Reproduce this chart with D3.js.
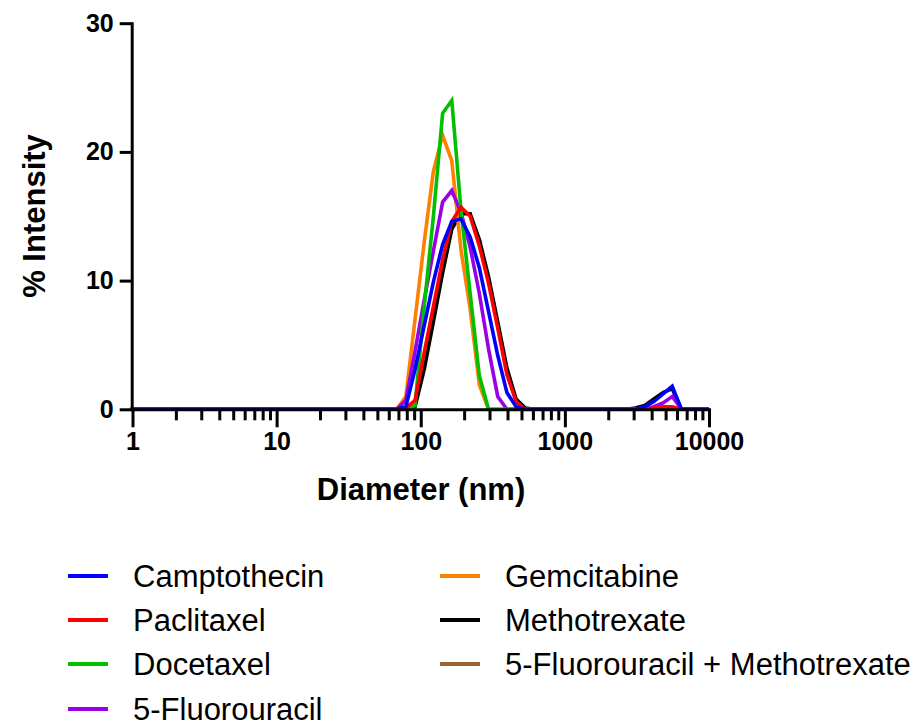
<!DOCTYPE html>
<html>
<head>
<meta charset="utf-8">
<script src="https://cdn.jsdelivr.net/npm/d3@7"></script>
<style>
  html, body { margin: 0; padding: 0; background: #fff; }
  svg { display: block; }
  text { font-family: "Liberation Sans", Arial, sans-serif; }
</style>
</head>
<body>
<svg id="chart" width="920" height="727"></svg>
<script>
// ---- Data (size bins in nm, % intensity per bin) ----
const diameters = [0.9649, 1.117, 1.294, 1.499, 1.736, 2.010, 2.328, 2.696, 3.122, 3.615,
  4.187, 4.849, 5.615, 6.503, 7.531, 8.721, 10.10, 11.70, 13.54, 15.69,
  18.17, 21.04, 24.36, 28.21, 32.67, 37.84, 43.82, 50.75, 58.77, 68.06,
  78.82, 91.28, 105.7, 122.4, 141.8, 164.2, 190.1, 220.2, 255.0, 295.3,
  342.0, 396.1, 458.7, 531.2, 615.1, 712.4, 825.0, 955.4, 1106, 1281,
  1484, 1718, 1990, 2305, 2669, 3091, 3580, 4145, 4801, 5560,
  6439, 7456, 8635, 10000];

const camptothecin = [0,0,0,0,0,0,0,0,0,0, 0,0,0,0,0,0,0,0,0,0, 0,0,0,0,0,0,0,0,0,0,
  0.2, 3.1, 6.5, 9.9, 12.8, 14.6, 14.8, 13.4, 11.0, 7.6,
  4.2, 1.3, 0.2, 0, 0, 0, 0, 0, 0, 0,
  0, 0, 0, 0, 0, 0, 0.2, 0.6, 1.2, 1.8,
  0, 0, 0, 0];
const paclitaxel = [0,0,0,0,0,0,0,0,0,0, 0,0,0,0,0,0,0,0,0,0, 0,0,0,0,0,0,0,0,0,0,
  0.1, 0.7, 4.4, 8.0, 11.6, 14.6, 15.7, 15.0, 12.7, 9.8,
  6.3, 2.7, 0.6, 0, 0, 0, 0, 0, 0, 0,
  0, 0, 0, 0, 0, 0, 0, 0.1, 0.2, 0.2,
  0, 0, 0, 0];
const docetaxel = [0,0,0,0,0,0,0,0,0,0, 0,0,0,0,0,0,0,0,0,0, 0,0,0,0,0,0,0,0,0,0,
  0, 0.3, 8.0, 15.0, 23.0, 24.0, 15.5, 9.0, 2.6, 0,
  0, 0, 0, 0, 0, 0, 0, 0, 0, 0,
  0, 0, 0, 0, 0, 0, 0, 0, 0, 0,
  0, 0, 0, 0];
const fluorouracil = [0,0,0,0,0,0,0,0,0,0, 0,0,0,0,0,0,0,0,0,0, 0,0,0,0,0,0,0,0,0,0,
  0.7, 4.5, 8.5, 12.3, 16.1, 17.0, 15.3, 12.6, 9.0, 4.7,
  1.0, 0, 0, 0, 0, 0, 0, 0, 0, 0,
  0, 0, 0, 0, 0, 0, 0, 0.2, 0.5, 1.0,
  0, 0, 0, 0];
const gemcitabine = [0,0,0,0,0,0,0,0,0,0, 0,0,0,0,0,0,0,0,0,0, 0,0,0,0,0,0,0,0,0,0,
  1.0, 7.0, 13.0, 18.5, 21.3, 19.3, 12.4, 7.8, 1.9, 0,
  0, 0, 0, 0, 0, 0, 0, 0, 0, 0,
  0, 0, 0, 0, 0, 0, 0, 0, 0, 0,
  0, 0, 0, 0];
const methotrexate = [0,0,0,0,0,0,0,0,0,0, 0,0,0,0,0,0,0,0,0,0, 0,0,0,0,0,0,0,0,0,0,
  0, 0.2, 3.1, 6.8, 10.6, 14.0, 15.2, 15.2, 13.2, 10.3,
  6.8, 3.2, 0.8, 0.1, 0, 0, 0, 0, 0, 0,
  0, 0, 0, 0, 0, 0.1, 0.3, 0.8, 1.3, 1.6,
  0, 0, 0, 0];
// 5-Fluorouracil + Methotrexate: no visible trace in the reference
const fluMtx = [];

const seriesNames = ["Camptothecin", "Paclitaxel", "Docetaxel", "5-Fluorouracil",
  "Gemcitabine", "Methotrexate", "5-Fluorouracil + Methotrexate"];
const seriesValues = [camptothecin, paclitaxel, docetaxel, fluorouracil,
  gemcitabine, methotrexate, fluMtx];
const seriesColors = ["#0000ff", "#ff0000", "#00c000", "#9900e6",
  "#ff8000", "#000000", "#996633"];

const xTickLabels = [1, 10, 100, 1000, 10000];
const yTickValues = [0, 10, 20, 30];

// ---- Chart ----
const svg = d3.select("#chart");
const x = d3.scaleLog().domain([1, 10000]).range([132.5, 709]);
const y = d3.scaleLinear().domain([0, 30]).range([409.3, 23.2]);

const lineGen = d3.line()
  .x(d => x(d[0]))
  .y(d => y(d[1]));

svg.append("clipPath").attr("id", "plotclip")
  .append("rect").attr("x", x(1) - 2).attr("y", 0)
  .attr("width", x(10000) - x(1) + 4).attr("height", 420);

// draw last series first so the first legend entry lies on top
const plot = svg.append("g").attr("clip-path", "url(#plotclip)");
for (let i = seriesValues.length - 1; i >= 0; i--) {
  const vals = seriesValues[i];
  if (!vals.length) continue;
  const pts = diameters.map((d, j) => [d, vals[j]]);
  plot.append("path")
    .attr("d", lineGen(pts))
    .attr("fill", "none")
    .attr("stroke", seriesColors[i])
    .attr("stroke-width", 3.6)
    .attr("stroke-linejoin", "miter");
}

// x axis with minor ticks
const allTicks = [];
for (let e = 0; e < 4; e++) {
  for (let m = 1; m < 10; m++) allTicks.push(m * Math.pow(10, e));
}
allTicks.push(10000);
const xAxis = d3.axisBottom(x)
  .tickValues(allTicks)
  .tickSize(18)
  .tickSizeOuter(0)
  .tickPadding(5)
  .tickFormat(d => xTickLabels.includes(d) ? String(d) : "");
const gx = svg.append("g").attr("transform", `translate(0,${y(0)})`).call(xAxis);
gx.select(".domain").attr("stroke", "#000").attr("stroke-width", 3)
  .attr("stroke-linecap", "square");
gx.selectAll(".tick line").attr("stroke", "#000").attr("stroke-width", 3)
  .attr("y2", d => xTickLabels.includes(d) ? 18 : 11);
gx.selectAll(".tick text").attr("fill", "#000")
  .style("font-size", "25px").style("font-weight", "bold");

// y axis
const yAxis = d3.axisLeft(y).tickValues(yTickValues).tickSize(12).tickSizeOuter(0).tickPadding(6);
const gy = svg.append("g").attr("transform", `translate(${x(1) - 0.8},0)`).call(yAxis);
gy.select(".domain").attr("stroke", "#000").attr("stroke-width", 3)
  .attr("stroke-linecap", "square");
gy.selectAll(".tick line").attr("stroke", "#000").attr("stroke-width", 3);
gy.selectAll(".tick text").attr("fill", "#000")
  .style("font-size", "25px").style("font-weight", "bold");

// axis titles
svg.append("text")
  .attr("x", 421).attr("y", 500)
  .attr("text-anchor", "middle")
  .style("font-size", "31px").style("font-weight", "bold")
  .text("Diameter (nm)");
svg.append("text")
  .attr("transform", "translate(45,216) rotate(-90)")
  .attr("text-anchor", "middle")
  .style("font-size", "31px").style("font-weight", "bold")
  .text("% Intensity");

// legend
const legendCols = [[0, 1, 2, 3], [4, 5, 6]];
const colX = [68, 440];
const rowY = [576, 620, 664, 709];
legendCols.forEach((col, ci) => {
  col.forEach((si, ri) => {
    const g = svg.append("g").attr("transform", `translate(${colX[ci]},${rowY[ri]})`);
    g.append("line").attr("x1", 0).attr("x2", 40).attr("y1", 0).attr("y2", 0)
      .attr("stroke", seriesColors[si]).attr("stroke-width", 4);
    g.append("text").attr("x", 65).attr("y", 0).attr("dy", "0.36em")
      .style("font-size", "31px")
      .text(seriesNames[si]);
  });
});
</script>
</body>
</html>
